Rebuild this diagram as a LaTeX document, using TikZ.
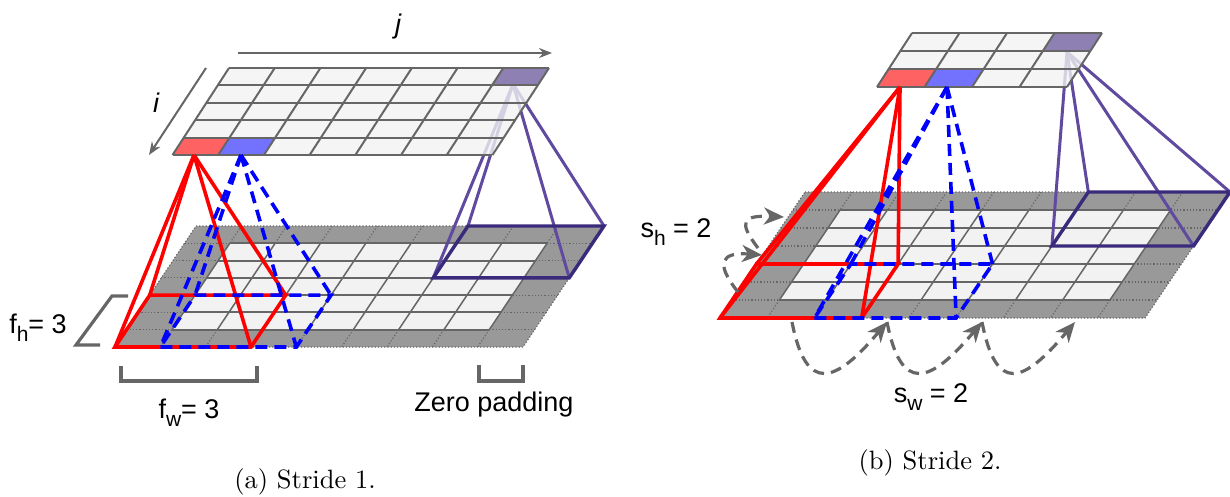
\documentclass[tikz,border=0pt]{standalone}
\usepackage{fontspec}
\newfontfamily\labelfont{Liberation Sans}
\usetikzlibrary{arrows.meta}
\newcommand{\lowsub}[1]{\raisebox{-8pt}{\fontsize{21}{21}\selectfont #1}}

\begin{document}
\begin{tikzpicture}[x=1pt,y=-1pt]
\tikzset{
padfill/.style={fill=padgray},
cellfill/.style={fill=cellgray},
cellline/.style={draw=linegray,line width=2pt},
dotline/.style={draw=linegray,line width=1.2pt,dotted},
redline/.style={draw=red,line width=3.6pt,line join=miter},
blueline/.style={draw=blue,line width=3.6pt,dash pattern=on 12pt off 7pt},
edgeline/.style={draw=edgepurple,line width=3pt},
baseedge/.style={draw=basepurple,line width=3.4pt},
bracket/.style={draw=linegray,line width=3.2pt},
hop/.style={draw=linegray,line width=3.2pt,dash pattern=on 11pt off 7pt,-{Stealth[length=20pt,width=17pt,inset=6pt]}},
axisline/.style={draw=linegray,line width=2pt,-{Stealth[length=13pt,width=10pt]}},
lbl/.style={font=\labelfont\fontsize{27}{30}\selectfont,inner sep=0pt},
captext/.style={font=\fontsize{10}{12}\selectfont,scale=2.65,inner sep=0pt}
}
\definecolor{padgray}{HTML}{999999}
\definecolor{cellgray}{HTML}{F2F2F2}
\definecolor{linegray}{HTML}{666666}
\definecolor{cellred}{HTML}{FF6262}
\definecolor{cellblue}{HTML}{7272FF}
\definecolor{cellpurple}{HTML}{8E80B2}
\definecolor{edgepurple}{HTML}{5F4A9F}
\definecolor{basepurple}{HTML}{3A2A7C}

\useasboundingbox (0,0) rectangle (1230,496);

% (a) input sheet
\begin{scope}[shift={(196,226)},x={(45.33pt,0pt)},y={(-11.57pt,-17.29pt)}]
	\fill[padfill] (0,0) -- (9,0) -- (9,7) -- (0,7) -- cycle;
	\fill[cellfill] (1,1) -- (8,1) -- (8,6) -- (1,6) -- cycle;
	\draw[dotline] (0,0) -- (9,0) -- (9,7) -- (0,7) -- cycle;
	\foreach \r in {1,...,6} {
		\draw[dotline] (0,\r) -- (1,\r);
		\draw[dotline] (8,\r) -- (9,\r);
		\draw[cellline] (1,\r) -- (8,\r);
	}
	\foreach \c in {1,...,8} {
		\draw[dotline] (\c,0) -- (\c,1);
		\draw[dotline] (\c,6) -- (\c,7);
		\draw[cellline,line width=1.5pt] (\c,1) -- (\c,6);
	}
	\coordinate (ra1) at (0,7);
	\coordinate (ra2) at (3,7);
	\coordinate (ra3) at (3,4);
	\coordinate (ra4) at (0,4);
	\coordinate (ba1) at (1,7);
	\coordinate (ba2) at (4,7);
	\coordinate (ba3) at (4,4);
	\coordinate (ba4) at (1,4);
	\coordinate (pa1) at (6,3);
	\coordinate (pa2) at (9,3);
	\coordinate (pa3) at (9,0);
	\coordinate (pa4) at (6,0);
\end{scope}

% (a) purple edges go under the output sheet
\coordinate (pa0) at (513,84);
\foreach \k in {1,...,4} \draw[edgeline] (pa0) -- (pa\k);
\draw[baseedge] (pa1) -- (pa2) -- (pa3) -- (pa4) -- cycle;

% (a) output sheet
\begin{scope}[shift={(229,68)},x={(45.71pt,0pt)},y={(-11.3pt,-17.4pt)}]
	\fill[cellfill,fill opacity=0.8] (0,0) -- (7,0) -- (7,5) -- (0,5) -- cycle;
	\fill[cellred] (0,4) -- (1,4) -- (1,5) -- (0,5) -- cycle;
	\fill[cellblue] (1,4) -- (2,4) -- (2,5) -- (1,5) -- cycle;
	\fill[cellpurple] (6,0) -- (7,0) -- (7,1) -- (6,1) -- cycle;
	\foreach \r in {0,...,5} \draw[cellline] (0,\r) -- (7,\r);
	\foreach \c in {0,...,7} \draw[cellline] (\c,0) -- (\c,5);
\end{scope}

% (a) red and blue
\coordinate (ra0) at (194,155);
\coordinate (ba0) at (241,155);
\foreach \k in {1,...,4} \draw[redline] (ra0) -- (ra\k);
\draw[redline] (ra1) -- (ra2) -- (ra3) -- (ra4) -- cycle;
\foreach \k in {1,...,4} \draw[blueline] (ba0) -- (ba\k);
\draw[blueline] (ba1) -- (ba2) -- (ba3) -- (ba4) -- cycle;

% (a) axes and brackets
\coordinate (ja) at (238,53);
\coordinate (jb) at (552,53);
\coordinate (ia) at (206,68);
\coordinate (ib) at (149,155);
\draw[axisline] (ja) -- (jb);
\draw[axisline] (ia) -- (ib);
\node[lbl,font=\labelfont\itshape\fontsize{27}{30}\selectfont] (jlabel) at (398,27) {j};
\node[lbl,font=\labelfont\itshape\fontsize{27}{30}\selectfont] (ilabel) at (156,103) {i};
\draw[bracket] (128,296) -- (112,296) -- (76,345) -- (100,345);
\draw[bracket] (121,366) -- (121,381) -- (257,381) -- (257,366);
\draw[bracket] (479,365) -- (479,381) -- (523,381) -- (523,365);
\node[lbl] (fhlabel) at (38,328) {f\lowsub{h}= 3};
\node[lbl] (fwlabel) at (189,413) {f\lowsub{w}= 3};
\node[lbl] (zerolabel) at (494,405) {Zero padding};
\node[captext] (capa) at (305,482) {(a) Stride 1.};

% (b) input sheet
\begin{scope}[shift={(805,192)},x={(47.22pt,0pt)},y={(-12.14pt,-18pt)}]
	\fill[padfill] (0,0) -- (9,0) -- (9,7) -- (0,7) -- cycle;
	\fill[cellfill] (1,1) -- (8,1) -- (8,6) -- (1,6) -- cycle;
	\draw[dotline] (0,0) -- (9,0) -- (9,7) -- (0,7) -- cycle;
	\foreach \r in {1,...,6} {
		\draw[dotline] (0,\r) -- (1,\r);
		\draw[dotline] (8,\r) -- (9,\r);
		\draw[cellline] (1,\r) -- (8,\r);
	}
	\foreach \c in {1,...,8} {
		\draw[dotline] (\c,0) -- (\c,1);
		\draw[dotline] (\c,6) -- (\c,7);
		\draw[cellline,line width=1.5pt] (\c,1) -- (\c,6);
	}
	\coordinate (rb1) at (0,7);
	\coordinate (rb2) at (3,7);
	\coordinate (rb3) at (3,4);
	\coordinate (rb4) at (0,4);
	\coordinate (bb1) at (2,7);
	\coordinate (bb2) at (5,7);
	\coordinate (bb3) at (5,4);
	\coordinate (bb4) at (2,4);
	\coordinate (pb1) at (6,3);
	\coordinate (pb2) at (9,3);
	\coordinate (pb3) at (9,0);
	\coordinate (pb4) at (6,0);
\end{scope}

% (b) purple edges go under the output sheet
\coordinate (pb0) at (1067,52);
\foreach \k in {1,...,4} \draw[edgeline] (pb0) -- (pb\k);
\draw[baseedge] (pb1) -- (pb2) -- (pb3) -- (pb4) -- cycle;

% (b) output sheet
\begin{scope}[shift={(912,33)},x={(47.5pt,0pt)},y={(-11.67pt,-18pt)}]
	\fill[cellfill,fill opacity=0.8] (0,0) -- (4,0) -- (4,3) -- (0,3) -- cycle;
	\fill[cellred] (0,2) -- (1,2) -- (1,3) -- (0,3) -- cycle;
	\fill[cellblue] (1,2) -- (2,2) -- (2,3) -- (1,3) -- cycle;
	\fill[cellpurple] (3,0) -- (4,0) -- (4,1) -- (3,1) -- cycle;
	\foreach \r in {0,...,3} \draw[cellline] (0,\r) -- (4,\r);
	\foreach \c in {0,...,4} \draw[cellline] (\c,0) -- (\c,3);
\end{scope}

% (b) red and blue
\coordinate (rb0) at (900,87);
\coordinate (bb0) at (947,87);
\foreach \k in {1,...,4} \draw[redline] (rb0) -- (rb\k);
\draw[redline] (rb1) -- (rb2) -- (rb3) -- (rb4) -- cycle;
\foreach \k in {1,...,4} \draw[blueline] (bb0) -- (bb\k);
\draw[blueline] (bb1) -- (bb2) -- (bb3) -- (bb4) -- cycle;

% (b) stride hops
\coordinate (swa) at (792,322);
\coordinate (swb) at (887,322);
\coordinate (swc) at (982,322);
\coordinate (swd) at (1075,322);
\draw[hop] (swa) .. controls (806,394) and (835,384) .. (swb);
\draw[hop] (swb) .. controls (901,394) and (930,384) .. (swc);
\draw[hop] (swc) .. controls (996,394) and (1023,384) .. (swd);
\coordinate (sha) at (738,292);
\coordinate (shb) at (762,255);
\coordinate (shc) at (758,248);
\coordinate (shd) at (784,217);
\draw[hop] (sha) .. controls (714,262) and (722,252) .. (shb);
\draw[hop] (shc) .. controls (738,222) and (742,215) .. (shd);
\node[lbl] (shlabel) at (676,232) {s\lowsub{h} = 2};
\node[lbl] (swlabel) at (931,397) {s\lowsub{w} = 2};
\node[captext] (capb) at (930,463) {(b) Stride 2.};

\end{tikzpicture}
\end{document}
